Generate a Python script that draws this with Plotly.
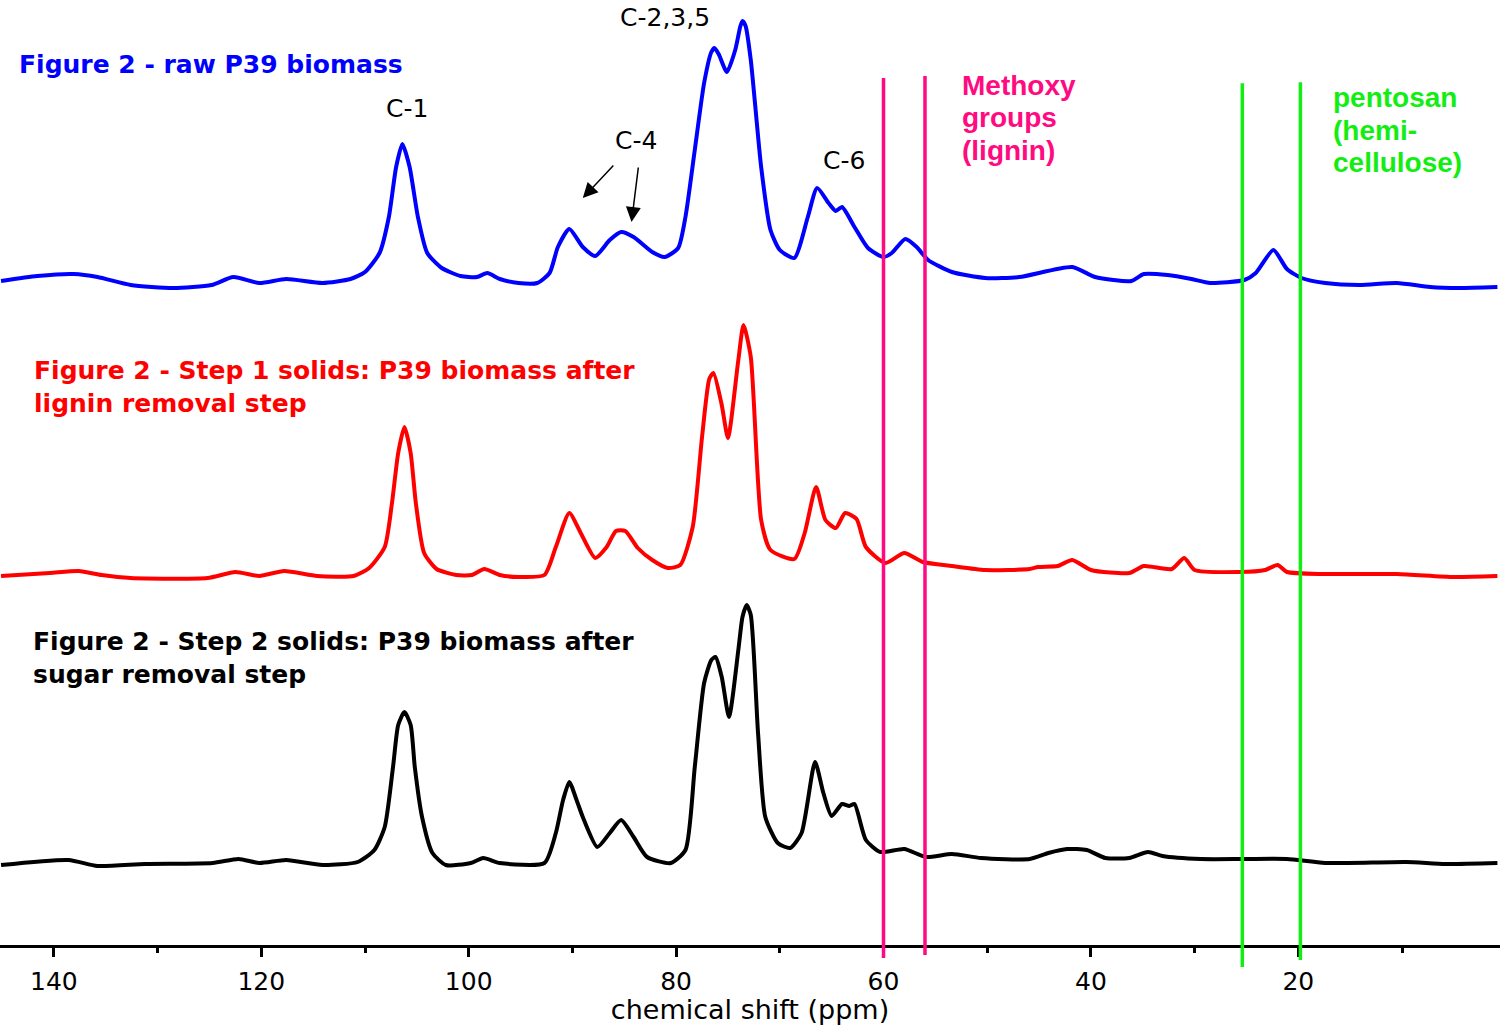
import plotly.graph_objects as go

# ---------------- data ----------------
# chemical shift (ppm) and intensity (a.u., relative to each spectrum's baseline)
ppm_raw = [145.1, 141.6, 138.1, 135.8, 132.6, 128.5, 124.8, 122.7, 120.2, 117.6, 114.1, 111.4,
           110.0, 108.6, 107.7, 107.0, 106.4, 105.7, 104.9, 104.0, 102.6, 100.8,
           99.2, 98.2, 97.0, 95.2, 93.4, 92.2, 91.4, 90.3, 89.0, 87.8, 86.4, 85.3, 84.1, 82.3,
           81.1, 79.8, 79.1, 78.2, 77.3, 76.6, 76.3, 75.9, 75.1, 74.3, 73.8, 73.6, 73.3, 72.8,
           71.8, 70.9, 70.0, 68.6, 67.3, 66.4, 65.3, 64.6, 64.0, 62.8, 61.5, 60.0, 59.2, 57.9,
           56.8, 55.7, 53.4, 50.2, 46.9, 41.8, 39.6, 36.1, 34.9, 32.6, 30.3, 28.5, 25.2, 24.1,
           22.4, 21.1, 19.7, 17.4, 14.1, 10.5, 7.3, 4.5, 0.8]
int_raw = [1, 6, 8, 5, -3, -6, -3, 5, -1, 3, -1, 3,
           10, 29, 65, 115, 138, 115, 65, 29, 14, 6,
           5, 9, 3, -1, -1, 9, 35, 53, 35, 26, 42, 50, 45, 30,
           25, 34, 65, 132, 199, 230, 234, 228, 210, 232, 256, 261, 256, 222,
           115, 52, 32, 24, 65, 94, 79, 71, 75, 55, 34, 25, 29, 43,
           35, 22, 10, 4, 5, 15, 5, 1, 8, 7, 3, -1, 2, 9,
           32, 13, 4, -1, -3, -1, -5, -6, -5]

ppm_step1 = [145.1, 140.4, 137.6, 135.4, 132.6, 125.2, 122.5, 120.2, 117.8, 114.6, 111.1, 109.6,
             108.1, 107.4, 106.8, 106.2, 105.6, 105.1, 104.3, 103.1, 101.2, 99.7,
             98.5, 97.0, 95.2, 92.7, 91.6, 90.3, 89.2, 87.8, 86.7, 85.8, 84.9, 83.7, 82.3, 80.8,
             79.6, 78.4, 77.5, 76.8, 76.4, 75.6, 75.0, 74.0, 73.5, 72.8, 71.8,
             70.9, 68.6, 67.6, 66.5, 65.6, 64.6, 63.7, 62.6, 61.7, 59.8, 58.0, 56.2, 53.4, 50.2,
             45.9, 45.1, 43.2, 41.8, 40.0, 36.3, 34.9, 32.2, 31.0, 30.0, 25.7, 23.2, 22.0, 21.1,
             17.4, 10.5, 5.0, 0.8]
int_step1 = [0, 3, 5, 1, -2, -2, 4, 0, 5, 0, 0, 8,
             29, 73, 123, 149, 123, 73, 23, 7, 1, 1,
             7, 1, -1, 1, 29, 63, 43, 18, 29, 45, 45, 28, 16, 8,
             11, 49, 139, 197, 203, 171, 138, 216, 251, 219, 56,
             26, 17, 43, 89, 56, 48, 63, 57, 29, 13, 23, 14, 10, 6,
             7, 9, 10, 16, 6, 3, 10, 7, 18, 6, 4, 6, 11, 4,
             2, 2, -1, 0]

ppm_step2 = [145.1, 138.6, 135.8, 131.2, 124.7, 122.2, 120.2, 117.6, 114.1, 110.7, 109.1, 108.1,
             107.3, 106.8, 106.2, 105.6, 105.2, 104.5, 103.5, 102.2, 99.8, 98.6,
             97.0, 92.7, 91.6, 90.9, 90.3, 89.6, 89.0, 87.6, 86.4, 85.3, 84.1, 82.8, 80.5, 79.1,
             78.2, 77.3, 76.6, 76.2, 75.6, 74.9, 74.0, 73.6, 73.2, 72.8, 72.1, 71.4,
             70.2, 69.0, 67.9, 66.6, 65.8, 65.0, 64.0, 63.3, 62.8, 61.7, 60.3, 58.0, 55.9, 53.4,
             50.6, 45.9, 44.1, 42.3, 40.4, 38.6, 36.3, 34.5, 33.1, 29.4, 25.2, 21.1, 17.4, 9.6,
             5.8, 0.8]
int_step2 = [-2, 3, -3, -1, 0, 4, 0, 3, -2, 1, 13, 36,
             96, 138, 151, 138, 96, 46, 10, -2, 0, 5,
             0, 0, 30, 63, 81, 63, 46, 16, 30, 43, 26, 6, 0, 13,
             96, 180, 203, 206, 186, 146, 213, 246, 258, 248, 130, 46,
             20, 15, 30, 101, 70, 47, 59, 57, 59, 23, 11, 14, 6, 9,
             5, 4, 10, 14, 13, 5, 5, 11, 7, 4, 4, 4, 0, 1,
             -1, 0]

# stacking offsets of the three spectra (a.u.)
offset_raw, offset_step1, offset_step2 = 663, 369, 82

# region markers (ppm)
methoxy_ppm = [60.0, 56.0]
pentosan_ppm = [25.4, 19.8]

tick_vals = [140, 120, 100, 80, 60, 40, 20]
tick_text = ["140", "120", "100", "80", "60", "40", "20"]
minor_vals = [130, 110, 90, 70, 50, 30, 10]

# ---------------- figure ----------------
fig = go.Figure()

def add_spec(ppm, inten, off, color, name):
    fig.add_trace(go.Scatter(
        x=ppm, y=[v + off for v in inten], mode="lines", name=name,
        line=dict(color=color, width=4, shape="spline", smoothing=0.6),
        hoverinfo="skip", showlegend=False))

add_spec(ppm_raw, int_raw, offset_raw, "#0000ff", "raw P39 biomass")
add_spec(ppm_step1, int_step1, offset_step1, "#ff0000", "Step 1 solids")
add_spec(ppm_step2, int_step2, offset_step2, "#000000", "Step 2 solids")

PINK = "#ff0a80"
GREEN = "#12ee12"
# vertical region lines
line_specs = [
    (methoxy_ppm[0], 0.9175, -0.0138, PINK),
    (methoxy_ppm[1], 0.9196, -0.0106, PINK),
    (pentosan_ppm[0], 0.9120, -0.0233, GREEN),
    (pentosan_ppm[1], 0.9130, -0.0160, GREEN),
]
for xv, y1, y0, col in line_specs:
    fig.add_shape(type="line", xref="x", yref="paper", x0=xv, x1=xv, y0=y0, y1=y1,
                  line=dict(color=col, width=3.5), layer="above")

ann = []
def txt(x, y, s, size, color, bold=False, xanchor="center", family="DejaVu Sans"):
    ann.append(dict(x=x, y=y, xref="x", yref="y", text=(f"<b>{s}</b>" if bold else s),
                    showarrow=False, xanchor=xanchor, yanchor="middle", align="left",
                    font=dict(size=size, color=color, family=family)))

txt(143.6, 881, "Figure 2 - raw P39 biomass", 25, "#0000ff", bold=True, xanchor="left")
txt(142.1, 575, "Figure 2 - Step 1 solids: P39 biomass after", 25, "#ff0000", bold=True, xanchor="left")
txt(142.1, 542, "lignin removal step", 25, "#ff0000", bold=True, xanchor="left")
txt(142.2, 304, "Figure 2 - Step 2 solids: P39 biomass after", 25, "#000000", bold=True, xanchor="left")
txt(142.2, 271, "sugar removal step", 25, "#000000", bold=True, xanchor="left")
txt(106.0, 837, "C-1", 25, "#000000")
txt(81.1, 928, "C-2,3,5", 25, "#000000")
txt(83.9, 805, "C-4", 25, "#000000")
txt(63.8, 785, "C-6", 25, "#000000")
ARIAL = "Liberation Sans, Arial"
for yv, s in [(860, "Methoxy"), (828, "groups"), (795, "(lignin)")]:
    txt(52.6, yv, s, 28, PINK, bold=True, xanchor="left", family=ARIAL)
for yv, s in [(848, "pentosan"), (815, "(hemi-"), (783, "cellulose)")]:
    txt(16.8, yv, s, 28, GREEN, bold=True, xanchor="left", family=ARIAL)

# C-4 arrows
for hx, hy, ax, ay in [(89.0, 747, 32, -34), (84.3, 723, 7, -56)]:
    ann.append(dict(x=hx, y=hy, xref="x", yref="y", text="", showarrow=True,
                    ax=ax, ay=ay, arrowhead=2, arrowsize=2.0, arrowwidth=1.5,
                    arrowcolor="#000000", standoff=0))

fig.update_layout(
    width=1500, height=1025,
    margin=dict(l=0, r=0, t=0, b=80),
    paper_bgcolor="white", plot_bgcolor="white",
    annotations=ann,
    xaxis=dict(
        range=[145.2, 0.55], showgrid=False, zeroline=False,
        showline=True, linecolor="#000000", linewidth=3,
        ticks="outside", ticklen=9, tickwidth=2.5, tickcolor="#000000",
        tickvals=tick_vals, ticktext=tick_text,
        tickfont=dict(family="DejaVu Sans", size=25, color="#000000"),
        ticklabelstandoff=3,
        minor=dict(ticks="outside", ticklen=5, tickwidth=2.5, tickcolor="#000000",
                   tickvals=minor_vals),
        title=dict(text="chemical shift (ppm)", standoff=0,
                   font=dict(family="DejaVu Sans", size=27, color="#000000")),
    ),
    yaxis=dict(range=[0, 945], visible=False, showgrid=False, zeroline=False),
)

fig.write_html("out.html", config={"displayModeBar": False},
               post_script="document.body.style.margin='0';")
